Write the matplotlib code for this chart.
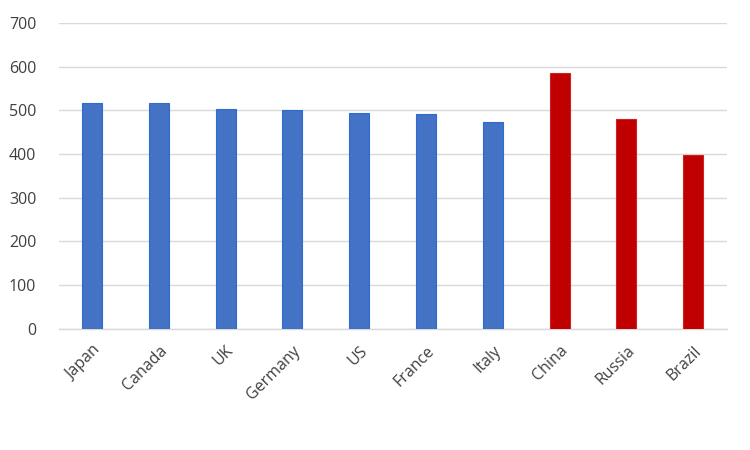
import matplotlib
matplotlib.use("Agg")
import matplotlib.pyplot as plt

countries = ["Japan", "Canada", "UK", "Germany", "US", "France", "Italy", "China", "Russia", "Brazil"]
values = [518, 516, 503, 500, 493, 491, 474, 586, 480, 397]
groups = ["G7"] * 7 + ["BRIC"] * 3
group_colors = {"G7": "#4472C4", "BRIC": "#C00000"}
group_edges = {"G7": "#2F6BD0", "BRIC": "#D02020"}
yticks = [0, 100, 200, 300, 400, 500, 600, 700]

plt.rcParams['font.family'] = ['Open Sans', 'DejaVu Sans']

fig = plt.figure(figsize=(7.5, 4.5), dpi=100)
ax = fig.add_axes([58.6 / 750, 1 - 328.8 / 450, 668 / 750, (328.8 - 23) / 450])

x = list(range(len(countries)))
ax.bar(x, values, width=0.3,
       color=[group_colors[g] for g in groups],
       edgecolor=[group_edges[g] for g in groups], linewidth=0.8, zorder=3)

ax.set_xlim(-0.5, len(countries) - 0.5)
ax.set_ylim(0, 700)
ax.set_yticks(yticks)
ax.set_yticklabels([str(t) for t in yticks], color="#404040", fontsize=11.5)
ax.set_xticks(x)
ax.set_xticklabels(countries, rotation=45, ha="right", rotation_mode="anchor",
                   color="#404040", fontsize=11.5)
ax.tick_params(axis="both", length=0)
ax.tick_params(axis="y", pad=16)
ax.tick_params(axis="x", pad=10)
ax.grid(axis="y", color="#D9D9D9", linewidth=1, zorder=0)
for s in ["top", "right", "left"]:
    ax.spines[s].set_visible(False)
ax.spines["bottom"].set_color("#D9D9D9")
ax.spines["bottom"].set_linewidth(1)

fig.savefig("out.png", dpi=100, facecolor="white")
